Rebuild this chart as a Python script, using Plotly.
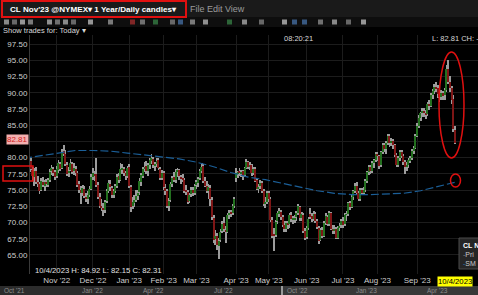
import plotly.graph_objects as go
import pandas as pd

# ---------------- data ----------------
holidays = ["2022-11-24", "2022-12-26", "2023-01-02", "2023-01-16", "2023-02-20",
            "2023-04-07", "2023-05-29", "2023-06-19", "2023-07-04", "2023-09-04"]
dates = [d.strftime("%Y-%m-%d") for d in pd.bdate_range("2022-10-05", "2023-10-04")
         if d.strftime("%Y-%m-%d") not in holidays]

opens = [
    78.9, 78.5, 79.4, 80.2, 79.5, 78.1, 77.0, 78.0, 76.3, 75.9,
    75.0, 76.3, 75.7, 76.3, 75.8, 76.5, 77.9, 78.3, 77.8, 77.1,
    78.1, 79.0, 78.4, 81.0, 80.5, 78.9, 77.6, 78.1, 79.0, 77.9,
    78.3, 77.6, 75.9, 75.0, 74.5, 75.2, 74.0, 73.6, 74.3, 75.2,
    77.0, 77.5, 77.4, 75.8, 74.0, 72.6, 72.3, 71.9, 73.3, 74.9,
    76.0, 75.3, 74.3, 74.9, 75.6, 77.1, 76.6, 78.2, 78.3, 77.6,
    77.2, 78.6, 75.5, 72.5, 73.1, 73.5, 74.1, 74.7, 76.3, 77.2,
    78.3, 78.7, 77.9, 78.8, 79.6, 79.8, 78.8, 79.0, 79.6, 78.3,
    76.8, 77.6, 75.3, 74.8, 72.6, 73.4, 76.0, 77.0, 76.5, 77.8,
    78.1, 77.0, 76.8, 76.6, 74.9, 74.7, 73.3, 74.4, 75.0, 74.6,
    75.8, 76.1, 76.8, 77.9, 78.7, 76.4, 75.7, 74.8, 75.3, 73.5,
    70.7, 67.4, 67.9, 66.4, 67.3, 68.7, 69.9, 68.9, 68.6, 71.1,
    71.5, 71.5, 72.6, 76.8, 77.6, 77.8, 77.6, 77.9, 77.3, 78.4,
    79.3, 78.6, 78.8, 77.6, 78.3, 76.5, 75.2, 75.6, 76.1, 74.9,
    72.9, 73.2, 74.6, 73.6, 70.4, 68.1, 68.1, 70.2, 71.4, 71.6,
    70.9, 69.6, 69.0, 69.8, 69.7, 71.2, 70.5, 70.4, 70.8, 71.4,
    72.4, 70.7, 71.2, 68.7, 67.7, 69.2, 71.3, 71.0, 70.6, 71.3,
    70.3, 69.2, 67.3, 68.9, 68.0, 69.9, 70.9, 69.8, 71.4, 69.0,
    68.8, 69.0, 67.6, 69.2, 69.6, 70.3, 69.7, 71.2, 71.3, 73.0,
    72.4, 74.0, 74.8, 75.7, 74.5, 73.6, 75.0, 74.7, 75.0, 76.4,
    77.8, 78.6, 77.9, 79.2, 79.6, 80.5, 80.2, 78.8, 80.8, 82.0,
    81.3, 82.2, 83.4, 82.2, 82.6, 81.9, 80.4, 78.9, 79.9, 80.8,
    80.3, 79.3, 78.6, 78.8, 79.6, 79.9, 81.0, 81.5, 83.4, 84.9,
    86.1, 86.8, 87.2, 86.9, 86.7, 88.2, 88.0, 89.6, 90.2, 90.9,
    90.7, 89.8, 89.4, 89.9, 89.6, 90.4, 93.7, 91.7, 90.8, 89.0,
    84.3]
highs = [
    79.4, 79.8, 80.9, 80.6, 79.9, 78.6, 78.4, 78.5, 77.2, 76.3,
    76.8, 77.0, 76.6, 76.7, 76.9, 78.2, 78.9, 78.6, 78.1, 78.7,
    79.6, 79.3, 81.4, 82.0, 81.1, 79.3, 78.6, 79.8, 79.3, 79.2,
    78.7, 77.9, 76.4, 75.6, 75.8, 75.6, 74.6, 74.8, 75.6, 77.4,
    78.4, 78.0, 79.9, 76.3, 74.6, 73.6, 73.0, 73.5, 75.1, 76.6,
    76.5, 75.6, 75.2, 76.0, 77.4, 77.6, 79.2, 79.0, 78.6, 78.0,
    78.7, 79.0, 75.8, 73.9, 74.2, 75.0, 75.0, 76.8, 77.6, 78.6,
    79.4, 79.5, 79.1, 79.9, 80.6, 80.1, 79.3, 80.0, 79.9, 78.6,
    78.1, 78.0, 76.0, 75.2, 73.8, 76.3, 77.2, 77.8, 78.2, 78.4,
    78.3, 77.3, 77.5, 76.9, 75.8, 75.0, 74.6, 75.4, 75.5, 76.0,
    76.6, 77.0, 78.2, 79.1, 79.0, 77.0, 76.4, 75.9, 75.8, 73.9,
    71.1, 68.9, 68.4, 67.6, 69.0, 70.3, 70.9, 69.4, 71.5, 72.0,
    72.0, 72.8, 73.9, 78.4, 78.0, 78.4, 78.1, 78.1, 78.6, 79.8,
    79.5, 79.3, 79.0, 78.6, 78.5, 76.9, 75.9, 76.5, 76.4, 75.2,
    73.9, 74.9, 74.9, 73.9, 70.9, 69.2, 70.4, 71.7, 72.3, 72.0,
    71.2, 70.3, 70.2, 70.2, 71.5, 71.6, 71.0, 71.1, 71.7, 72.8,
    72.6, 71.6, 71.4, 69.2, 69.5, 70.9, 72.2, 71.4, 71.8, 71.6,
    70.6, 69.4, 69.2, 69.3, 70.2, 71.4, 71.2, 71.8, 71.6, 69.6,
    69.6, 69.3, 69.5, 69.9, 70.5, 70.9, 71.5, 71.8, 73.2, 73.3,
    74.2, 75.0, 76.1, 76.2, 74.9, 75.3, 75.3, 75.5, 76.7, 78.0,
    78.9, 78.9, 79.5, 79.8, 80.9, 80.9, 80.4, 81.0, 82.3, 82.2,
    82.5, 83.7, 83.6, 83.0, 82.9, 82.1, 80.7, 80.3, 81.1, 81.2,
    80.6, 79.6, 79.4, 79.9, 80.3, 81.3, 81.8, 83.7, 85.3, 86.5,
    87.1, 87.6, 87.6, 87.3, 88.5, 88.8, 89.9, 90.6, 91.4, 91.7,
    91.2, 90.3, 90.4, 90.3, 90.8, 94.2, 95.0, 92.5, 91.0, 89.6,
    84.92]
lows = [
    78.0, 78.2, 79.1, 79.0, 77.8, 76.6, 75.6, 75.9, 75.5, 74.4,
    74.8, 75.4, 74.9, 75.4, 75.5, 76.2, 77.3, 77.2, 76.6, 76.9,
    77.6, 77.9, 78.2, 80.2, 78.7, 77.1, 77.0, 77.9, 77.4, 77.3,
    77.2, 75.4, 74.6, 72.9, 74.1, 73.8, 73.2, 72.9, 73.9, 75.0,
    76.6, 76.4, 75.5, 73.6, 72.3, 71.8, 71.0, 71.5, 73.0, 74.6,
    74.9, 73.8, 73.8, 74.5, 75.3, 76.1, 76.4, 77.4, 77.2, 76.6,
    76.9, 75.3, 71.6, 72.1, 72.4, 73.2, 73.4, 74.3, 75.6, 76.9,
    77.8, 77.5, 77.2, 78.2, 79.0, 78.4, 78.0, 78.6, 78.1, 76.6,
    76.5, 75.0, 74.3, 72.3, 71.8, 73.1, 75.5, 76.2, 76.1, 77.0,
    76.6, 75.9, 76.2, 74.6, 74.2, 72.9, 73.0, 74.0, 74.1, 74.2,
    75.1, 75.5, 76.5, 77.6, 76.1, 75.4, 74.5, 73.6, 72.6, 70.4,
    66.8, 66.6, 65.8, 64.4, 67.0, 68.4, 68.5, 66.9, 68.4, 70.5,
    70.9, 71.2, 72.2, 76.3, 76.9, 77.1, 77.0, 76.6, 77.0, 78.2,
    78.2, 78.1, 77.2, 77.3, 76.2, 75.0, 74.6, 75.1, 74.6, 72.6,
    72.3, 72.9, 73.2, 70.1, 67.6, 65.6, 67.8, 69.8, 70.9, 70.4,
    69.3, 68.6, 68.6, 69.0, 69.2, 70.1, 69.8, 69.9, 70.2, 71.1,
    70.3, 70.2, 68.4, 67.3, 67.4, 68.9, 70.6, 70.1, 70.3, 70.0,
    69.0, 66.7, 67.1, 67.6, 67.8, 69.6, 69.4, 69.5, 68.8, 68.3,
    68.3, 67.4, 67.4, 68.7, 69.2, 69.2, 69.5, 70.2, 71.0, 72.0,
    72.2, 73.4, 74.5, 74.3, 73.3, 73.3, 74.2, 74.2, 74.7, 76.1,
    77.3, 77.4, 77.6, 78.4, 79.3, 79.5, 78.3, 78.5, 80.5, 80.8,
    80.5, 81.9, 81.6, 81.8, 81.4, 80.1, 78.6, 78.5, 79.5, 79.9,
    78.8, 77.5, 78.0, 78.4, 79.2, 79.6, 80.6, 81.3, 83.2, 84.5,
    85.7, 86.2, 86.2, 85.9, 86.4, 87.4, 87.8, 89.1, 89.8, 90.1,
    89.2, 88.5, 88.8, 88.9, 88.8, 90.1, 91.3, 90.1, 88.3, 84.0,
    82.15]
closes = [
    78.6, 79.3, 80.4, 79.6, 78.2, 77.1, 77.9, 76.2, 75.9, 74.9,
    76.4, 75.8, 76.2, 75.9, 76.5, 77.8, 78.4, 77.7, 77.0, 78.2,
    79.1, 78.3, 80.9, 80.6, 79.0, 77.5, 78.0, 79.2, 77.8, 78.4,
    77.6, 75.8, 75.0, 74.6, 75.3, 74.1, 73.6, 74.2, 75.1, 77.0,
    77.6, 77.2, 75.8, 74.0, 72.6, 72.3, 71.9, 73.2, 74.8, 76.1,
    75.4, 74.2, 74.8, 75.6, 77.0, 76.5, 78.3, 78.2, 77.7, 77.1,
    78.4, 75.6, 72.4, 73.2, 73.4, 74.1, 74.6, 76.4, 77.3, 78.3,
    78.6, 78.0, 78.8, 79.6, 79.9, 78.8, 78.9, 79.5, 78.4, 76.9,
    77.7, 75.4, 74.8, 72.6, 73.3, 75.9, 76.9, 76.6, 77.8, 78.0,
    77.1, 76.8, 76.7, 74.9, 74.8, 73.2, 74.3, 75.0, 74.6, 75.7,
    76.2, 76.7, 77.9, 78.6, 76.4, 75.6, 74.8, 75.4, 73.6, 70.8,
    67.3, 67.9, 66.5, 67.2, 68.6, 69.8, 69.0, 68.5, 71.2, 71.5,
    71.4, 72.5, 73.6, 77.6, 77.8, 77.7, 77.8, 77.2, 78.4, 79.4,
    78.6, 78.9, 77.6, 78.3, 76.4, 75.2, 75.5, 76.1, 74.9, 72.9,
    73.2, 74.6, 73.7, 70.4, 68.0, 68.0, 70.1, 71.4, 71.7, 70.8,
    69.6, 69.0, 69.9, 69.7, 71.2, 70.5, 70.5, 70.7, 71.4, 72.5,
    70.7, 71.3, 68.7, 67.6, 69.2, 70.6, 71.0, 70.6, 71.3, 70.3,
    69.3, 67.2, 68.9, 68.0, 69.9, 71.0, 69.7, 71.5, 69.0, 68.8,
    69.0, 67.6, 69.2, 69.5, 70.2, 69.6, 71.2, 71.3, 73.0, 72.4,
    74.0, 74.8, 75.7, 74.6, 73.6, 75.0, 74.7, 75.0, 76.4, 77.8,
    78.6, 77.9, 79.2, 79.6, 80.6, 80.3, 78.7, 80.8, 82.0, 81.3,
    82.2, 83.4, 82.2, 82.6, 81.9, 80.4, 78.9, 79.9, 80.8, 80.3,
    79.3, 78.6, 78.8, 79.6, 79.9, 81.0, 81.5, 83.4, 84.9, 86.1,
    86.8, 87.2, 86.9, 86.7, 88.2, 88.0, 89.6, 90.2, 90.9, 90.7,
    89.8, 89.4, 89.9, 89.6, 90.4, 93.7, 91.7, 90.8, 88.8, 84.4,
    82.31]

sma_dates = dates[0::10]
sma_values = [79.9, 80.3, 80.8, 81.1, 81.1, 81.0, 80.7, 80.4, 80.1, 79.8,
              79.3, 78.6, 77.7, 77.0, 76.6, 76.0, 75.4, 74.9, 74.5, 74.3,
              74.3, 74.4, 74.5, 74.9, 75.6, 76.2]

month_ticks = ["2022-11-01", "2022-12-01", "2023-01-03", "2023-02-01", "2023-03-01",
               "2023-04-03", "2023-05-01", "2023-06-01", "2023-07-03", "2023-08-01",
               "2023-09-01"]
month_labels = ["Nov '22", "Dec '22", "Jan '23", "Feb '23", "Mar '23", "Apr '23",
                "May '23", "Jun '23", "Jul '23", "Aug '23", "Sep '23"]

price_ticks = [65, 67.5, 70, 72.5, 75, 77.5, 80, 82.5, 85, 87.5, 90, 92.5, 95, 97.5]
price_labels = ["65.00", "67.50", "70.00", "72.50", "75.00", "77.50", "80.00", "",
                "85.00", "87.50", "90.00", "92.50", "95.00", "97.50"]

last_price = 82.81
nav_labels = ["Oct '21", "Jan '22", "Apr '22", "Jul '22", "Oct '22", "Jan '23", "Apr '23"]

# ---------------- figure ----------------
W, H = 478, 295
ML, MR, MT, MB = 30, 0, 35, 21
PW, PH = W - ML - MR, H - MT - MB


def PX(p):
    return (p - ML) / PW


def PY(p):
    return (H - MB - p) / PH


FONT = "Arial, Liberation Sans, sans-serif"

wick_base = [l for l in lows]
wick_len = [h - l for h, l in zip(highs, lows)]
body_base = [min(o, c) for o, c in zip(opens, closes)]
body_len = [max(abs(c - o), 0.1) for o, c in zip(opens, closes)]
body_col = ["#23701f" if c >= o else "#7e1616" for o, c in zip(opens, closes)]

fig = go.Figure()
fig.add_trace(go.Bar(x=dates, y=wick_len, base=wick_base, width=0.5,
                     marker=dict(color="#9c9c9c", line=dict(width=0)), name="Wicks"))
fig.add_trace(go.Bar(x=dates, y=body_len, base=body_base, width=0.7,
                     marker=dict(color=body_col, line=dict(width=0)), name="Price"))
fig.add_trace(go.Scatter(x=sma_dates, y=sma_values, mode="lines", name="SMA",
                         line=dict(color="#1b5f98", width=1.2, dash="8px,3px")))

fig.update_layout(
    width=W, height=H, margin=dict(l=ML, r=MR, t=MT, b=MB, pad=0),
    paper_bgcolor="#000000", plot_bgcolor="#000000",
    showlegend=False, barmode="overlay", bargap=0,
    font=dict(family=FONT, size=8, color="#c8c8c8"),
    xaxis=dict(type="category", range=[3.5, 263.3], tickvals=month_ticks,
               ticktext=month_labels, showgrid=True, gridcolor="#1c1c1c",
               gridwidth=1, zeroline=False, showline=False, ticks="",
               tickfont=dict(size=8, color="#cfcfcf"), rangeslider=dict(visible=False)),
    yaxis=dict(range=[62.07, 98.89], tickvals=price_ticks, ticktext=price_labels,
               showgrid=True, gridcolor="#1c1c1c", gridwidth=1, zeroline=False,
               showline=True, linecolor="#3a3a3a", linewidth=1, ticks="",
               tickfont=dict(size=8, color="#cfcfcf")),
)

shapes = []
# header bars
shapes.append(dict(type="rect", xref="paper", yref="paper", x0=PX(0), x1=PX(W),
                   y0=PY(17), y1=PY(0), fillcolor="#1a1a1a", line=dict(width=0)))
shapes.append(dict(type="rect", xref="paper", yref="paper", x0=PX(0), x1=PX(W),
                   y0=PY(27), y1=PY(17), fillcolor="#0e0e0e", line=dict(width=0)))
# toolbar icons (decorative)
icon_cols = ["#bdbdbd", "#8f8f8f", "#d0d0d0", "#a8a8a8", "#c8c8c8", "#9a9a9a"]
icon_x = [4, 12, 20, 28, 47, 55, 63, 71, 88, 108, 130, 140, 153, 170, 178, 190,
          203, 227, 242, 259, 282, 292, 302, 318, 332, 346, 361]
for k, ix in enumerate(icon_x):
    col = icon_cols[k % len(icon_cols)]
    if ix in (130,):
        col = "#b03030"
    if ix in (153, 227):
        col = "#3a8a4a"
    if ix in (178, 292, 302):
        col = "#4a78b0"
    shapes.append(dict(type="rect", xref="paper", yref="paper", x0=PX(ix), x1=PX(ix + 5),
                       y0=PY(24.5), y1=PY(19.5), fillcolor=col, line=dict(width=0),
                       opacity=0.7))
# red box round the title
shapes.append(dict(type="rect", xref="paper", yref="paper", x0=PX(2), x1=PX(186),
                   y0=PY(17), y1=PY(1), line=dict(color="#e01010", width=2)))
# red box round 77.50
shapes.append(dict(type="rect", xref="paper", yref="paper", x0=PX(3), x1=PX(33),
                   y0=PY(181), y1=PY(166), line=dict(color="#e01010", width=1.5)))
# red ellipse and circle
shapes.append(dict(type="circle", xref="paper", yref="paper", x0=PX(439), x1=PX(464),
                   y0=PY(158), y1=PY(52), line=dict(color="#e01010", width=1.5)))
shapes.append(dict(type="circle", xref="paper", yref="paper", x0=PX(450.5), x1=PX(460.5),
                   y0=PY(187), y1=PY(174), line=dict(color="#e01010", width=1.5)))
# legend box
shapes.append(dict(type="rect", xref="paper", yref="paper", x0=PX(459), x1=PX(482),
                   y0=PY(269), y1=PY(238), fillcolor="#262626",
                   line=dict(color="#4a4a4a", width=1)))
# bottom navigator
shapes.append(dict(type="rect", xref="paper", yref="paper", x0=PX(0), x1=PX(W),
                   y0=PY(H), y1=PY(286), fillcolor="#2c2c2c", line=dict(width=0)))
shapes.append(dict(type="rect", xref="paper", yref="paper", x0=PX(282), x1=PX(W),
                   y0=PY(H), y1=PY(286), fillcolor="#383838", line=dict(width=0)))
shapes.append(dict(type="line", xref="paper", yref="paper", x0=PX(282), x1=PX(282),
                   y0=PY(H), y1=PY(286), line=dict(color="#9a9a9a", width=2)))
fig.update_layout(shapes=shapes)

ann = []
ann.append(dict(text="<b>CL Nov'23 @NYMEX▾ 1 Year/Daily candles▾</b>", xref="paper",
                yref="paper", x=PX(8), y=PY(9), xanchor="left", yanchor="middle",
                showarrow=False, font=dict(size=8.1, color="#ffffff")))
ann.append(dict(text="File Edit View", xref="paper", yref="paper", x=PX(188), y=PY(9),
                xanchor="left", yanchor="middle", showarrow=False,
                font=dict(size=9, color="#9a9a9a")))
ann.append(dict(text="Show trades for: Today ▾", xref="paper", yref="paper", x=PX(1),
                y=PY(30.5), xanchor="left", yanchor="middle", showarrow=False,
                font=dict(size=7.5, color="#d8d8d8")))
ann.append(dict(text="08:20:21", xref="paper", yref="paper", x=PX(298), y=PY(38.5),
                xanchor="center", yanchor="middle", showarrow=False,
                font=dict(size=7.5, color="#d8d8d8")))
ann.append(dict(text="L: 82.81 CH: -", xref="paper", yref="paper", x=PX(430),
                y=PY(38.5), xanchor="left", yanchor="middle", showarrow=False,
                font=dict(size=7.5, color="#d8d8d8")))
ann.append(dict(text="%.2f" % last_price, xref="paper", yref="y", x=PX(28.5), y=last_price,
                xanchor="right", yanchor="middle", showarrow=False, bgcolor="#f3b0b0",
                borderpad=0, font=dict(size=8, color="#d02020")))
ann.append(dict(text="10/4/2023 H: %.2f L: %.2f C: %.2f" % (highs[-1], lows[-1], closes[-1]),
                xref="paper", yref="paper", x=PX(33), y=PY(270), xanchor="left",
                yanchor="middle", showarrow=False, font=dict(size=7.7, color="#e0e0e0")))
ann.append(dict(text="10/4/2023", xref="x", yref="paper", x=dates[-1], y=PY(281),
                xanchor="center", yanchor="middle", showarrow=False, bgcolor="#ffff00",
                borderpad=0, font=dict(size=7.7, color="#000000")))
ann.append(dict(text="<b>CL N</b>", xref="paper", yref="paper", x=PX(460.5), y=PY(245),
                xanchor="left", yanchor="middle", showarrow=False,
                font=dict(size=7, color="#ffffff")))
ann.append(dict(text='<span style="color:#8a8a8a">-</span>Pri', xref="paper",
                yref="paper", x=PX(461), y=PY(254), xanchor="left", yanchor="middle",
                showarrow=False, font=dict(size=7, color="#c8c8c8")))
ann.append(dict(text='<span style="color:#2a7fc0">-</span>SM', xref="paper",
                yref="paper", x=PX(461), y=PY(263), xanchor="left", yanchor="middle",
                showarrow=False, font=dict(size=7, color="#c8c8c8")))
nav_x = [14, 92, 153, 223, 297, 366, 437]
for lab, nx in zip(nav_labels, nav_x):
    ann.append(dict(text=lab, xref="paper", yref="paper", x=PX(nx), y=PY(290.5),
                    xanchor="center", yanchor="middle", showarrow=False,
                    font=dict(size=6.5, color="#8c8c8c")))
fig.update_layout(annotations=ann)

fig.write_html("out.html")
